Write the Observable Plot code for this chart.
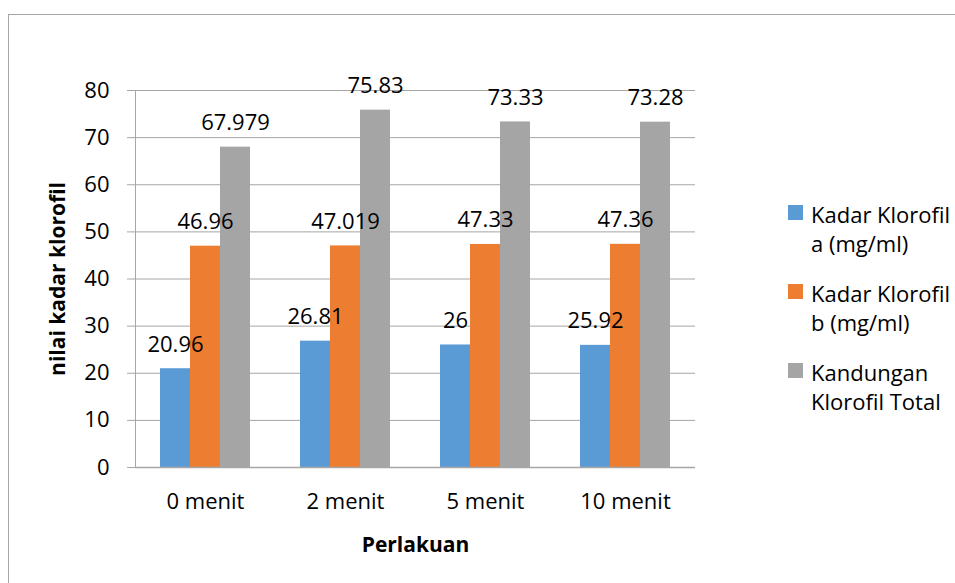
<!DOCTYPE html>
<html><head><meta charset="utf-8">
<script src="https://cdn.jsdelivr.net/npm/d3@7"></script>
<script src="https://cdn.jsdelivr.net/npm/@observablehq/plot@0.6"></script>
<style>
body{margin:0;background:#fff;font-family:"Open Sans",sans-serif;}
#wrap{position:relative;width:955px;height:583px;overflow:hidden;background:#fff;}
#frame{position:absolute;left:8px;top:14px;width:1100px;height:1000px;border:1px solid #a6a6a6;box-sizing:border-box;}
#chart{position:absolute;left:0;top:0;}
#legend{position:absolute;left:788px;top:200px;font-family:"Open Sans",sans-serif;font-size:22px;color:#000;}
.item{position:relative;padding-left:23px;line-height:29px;margin-bottom:21px;white-space:nowrap;}
.sw{position:absolute;left:0;top:5px;width:15px;height:15px;}
</style></head>
<body>
<div id="wrap"><div id="frame"></div><div id="chart"></div><div id="legend"></div></div>
<script>
const categories = ["0 menit", "2 menit", "5 menit", "10 menit"];
const seriesNames = ["Kadar Klorofil a (mg/ml)", "Kadar Klorofil b (mg/ml)", "Kandungan Klorofil Total"];
const legendLines = [["Kadar Klorofil", "a (mg/ml)"], ["Kadar Klorofil", "b (mg/ml)"], ["Kandungan", "Klorofil Total"]];
const klorofilA = [20.96, 26.81, 26, 25.92];
const klorofilB = [46.96, 47.019, 47.33, 47.36];
const klorofilTotal = [67.979, 75.83, 73.33, 73.28];
const yTicks = [0, 10, 20, 30, 40, 50, 60, 70, 80];
const colors = ["#5B9BD5", "#ED7D31", "#A5A5A5"];
const yLabel = "nilai kadar klorofil";
const xLabel = "Perlakuan";

const seriesValues = [klorofilA, klorofilB, klorofilTotal];
const rows = [];
categories.forEach((c, i) => seriesValues.forEach((vals, s) => rows.push({category: c, series: seriesNames[s], value: vals[i]})));

const gridColor = "#a6a6a6";
const chart = Plot.plot({
  width: 955, height: 583,
  marginLeft: 134, marginRight: 259, marginTop: 90, marginBottom: 116,
  style: {fontFamily: "Open Sans", fontSize: "22px", color: "#000", background: "transparent"},
  fx: {domain: categories, padding: 0},
  x: {domain: seriesNames, paddingInner: 0, paddingOuter: 0.765, axis: null},
  y: {domain: [0, 80]},
  color: {domain: seriesNames, range: colors},
  marks: [
    Plot.gridY(yTicks, {stroke: gridColor, strokeOpacity: 1}),
    Plot.barY(rows, {fx: "category", x: "series", y: "value", fill: "series"}),
    Plot.ruleY([0], {stroke: gridColor, strokeWidth: 1.3}),
    Plot.frame({anchor: "left", stroke: gridColor, facetAnchor: "left"}),
    Plot.text(rows, {fx: "category", x: "series", y: "value", text: d => String(d.value), lineAnchor: "bottom", dy: -17, fill: "#000", fontSize: 22}),
    Plot.axisY(yTicks, {tickSize: 8, tickPadding: 18, stroke: gridColor, fill: "#000", label: null, fontSize: 22}),
    Plot.text([yLabel], {frameAnchor: "left", facetAnchor: "left", rotate: -90, dx: -77, textAnchor: "middle", lineAnchor: "middle", fontWeight: "bold", fontSize: 21, fill: "#000"}),
    Plot.axisFx({anchor: "bottom", tickSize: 0, tickPadding: 26, fill: "#000", label: null, fontSize: 22}),
    Plot.axisFx({anchor: "bottom", ticks: [], tickSize: 0, label: xLabel, labelAnchor: "center", labelOffset: 84, fontWeight: "bold", fontSize: 21, fill: "#000"})
  ]
});
document.getElementById("chart").appendChild(chart);

const legend = document.getElementById("legend");
legendLines.forEach((lines, i) => {
  const it = document.createElement("div");
  it.className = "item";
  const sw = document.createElement("span");
  sw.className = "sw";
  sw.style.background = colors[i];
  it.appendChild(sw);
  lines.forEach((l, j) => { if (j) it.appendChild(document.createElement("br")); it.appendChild(document.createTextNode(l)); });
  legend.appendChild(it);
});
</script>
</body></html>
